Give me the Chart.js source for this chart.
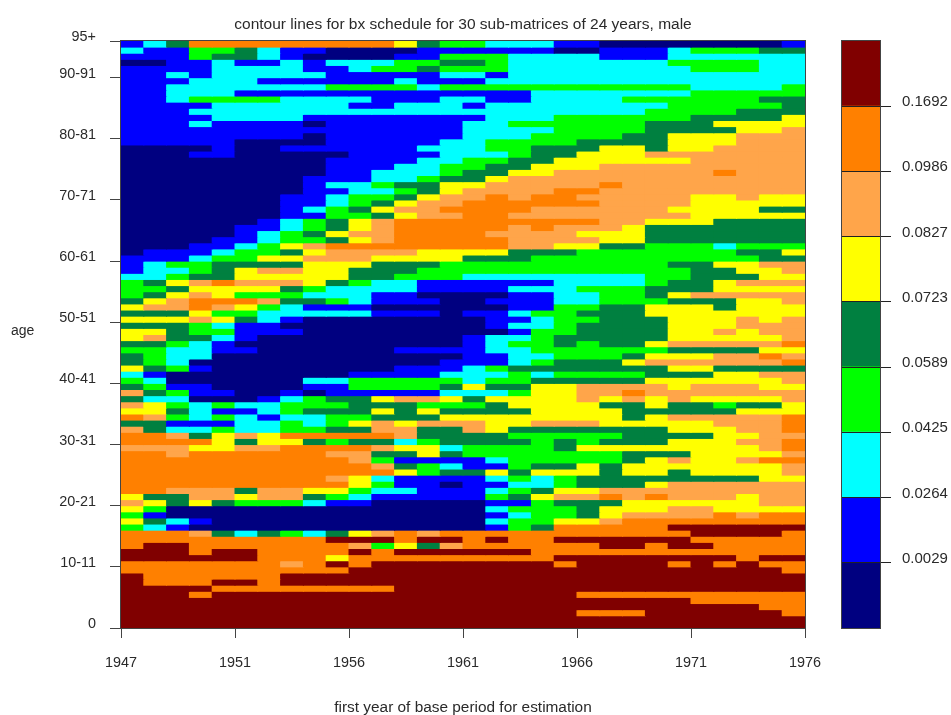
<!DOCTYPE html>
<html>
<head>
<meta charset="utf-8">
<title>contour lines for bx schedule</title>
<script src="https://cdn.jsdelivr.net/npm/chart.js@4/dist/chart.umd.min.js"></script>
<style>
html,body{margin:0;padding:0;background:#fff;width:951px;height:715px;overflow:hidden}
canvas{position:absolute;top:0}
#main{left:0}
#bar{left:820px}
</style>
</head>
<body>
<canvas id="main" width="951" height="715"></canvas>
<canvas id="bar" width="131" height="715"></canvas>
<script>
const titleText = "contour lines for bx schedule for 30 sub-matrices of 24 years, male";
const xAxisTitle = "first year of base period for estimation";
const yAxisTitle = "age";
const xTickLabels = ["1947","1951","1956","1961","1966","1971","1976"];
const xTickPositions = [0,5,10,15,20,25,30];
const yTickLabels = ["0","10-11","20-21","30-31","40-41","50-51","60-61","70-71","80-81","90-91","95+"];
const yTickPositions = [0,10,20,30,40,50,60,70,80,90,96];
const classColors = ["#000080","#0000FF","#00FFFF","#00FF00","#008040","#FFFF00","#FFA54A","#FF8000","#800000"];
const classBreaks = ["0.0029","0.0264","0.0425","0.0589","0.0723","0.0827","0.0986","0.1692"];
// class index of each cell: first string = oldest age group (95+), last = age 0; one digit per base period
const rows = [
"124777777777543322211000000001",
"211334211000011111100111233344",
"111344210000113332222111222222",
"001121121222334432222222333322",
"111122221123343332222222233322",
"112122222111112212222222222222",
"111222111111211122222222222222",
"112222222333323333333333322223",
"112221111111111111222222233333",
"112333322221112211222233333344",
"111122222211222122222222333334",
"111222222222222222222223333444",
"111122221111111122233333344445",
"111211110111111223333334445555",
"111111111111111222233334444556",
"111111110111111222333344555666",
"111110000111112233334444555666",
"000010011111122233444554556666",
"000110000011112223445556666666",
"000000000111122334455555566666",
"000000000111223344555666666666",
"000000000112223445566666667666",
"000000001112234456666666666666",
"000000001223445566666766666666",
"000000001122345666677666666666",
"000000011233456676776666655655",
"000000011234566777777666655555",
"000000012345667777666666555544",
"000000011334566776666666655555",
"000000123456777777777665554444",
"000001123456777776766654444444",
"000001234566777766665554444444",
"000011233456777776666554444444",
"000112356777777776655443332333",
"011123345666655554443333333445",
"111233556665555444333333333344",
"123344445554443333333333445566",
"122345665544433333333333344556",
"223445555544333222222223344455",
"345676665432211111122223445666",
"334555543222211112223334445555",
"345653332221100001122334566666",
"456777644321110011122333444556",
"566765321110000001133445554555",
"444533222221110112334445555555",
"555654210000000011233444555656",
"444321100000000012234444555666",
"554331110000000001334444556566",
"564421000000000122344444555556",
"443210000000000123343445666667",
"332211000000111122333333444455",
"432200000000000112233345556676",
"432000000000001112344456666667",
"543100000000111234444444554444",
"210000000011112223233334445566",
"320000002233333233444445555556",
"431100001133334544556666566655",
"643110010111112223556676666666",
"422000123445665455556565655556",
"653232233344433345555445443445",
"554211234445454444555544444555",
"763232122334445555555545666667",
"441112232356566655666555556667",
"642232233446644654444444555667",
"776456577777644443333344445566",
"777754554344234444343444555667",
"666556677776552333345555555567",
"776777777664454333333344455556",
"777777777763111123333345655677",
"777777777776432113445455555556",
"777777777777534454555455455556",
"777777777652111123234444444455",
"777777777753110112234445666666",
"776664665532211123455666666666",
"544665664321111134566767666566",
"654543332110000011344455555566",
"530000000000000023334555665555",
"310000000000000012334566667677",
"542100000000000023355677777777",
"321000000000000013477777888888",
"777642432456767777777777788887",
"777777777888788787788888877777",
"788777777763546777777887887777",
"888788777787888888777777777777",
"888888777577777777788888888788",
"777777767878888888878888787877",
"777777777788888888888888888887",
"877777788888888888888888888888",
"877788788888888888888888888888",
"888877777777888888888888888888",
"888788888888888888887777777777",
"888888888888888888888888877777",
"888888888888888888888888888877",
"888888888888888888887778888887",
"888888888888888888888888888888",
"888888888888888888888888888888"
];

const textColor = "#2a2a2a";
const axisColor = "#444";
const fam = "'Liberation Sans', Arial, sans-serif";
const tickFont = {family: fam, size: 14.4};

const ageCount = rows.length;
const datasets = rows.map((row, r) => {
  const age = ageCount - 1 - r;
  const cells = row.split("").map(Number);
  return {
    label: "row " + r,
    data: cells.map((cls, c) => ({x: c + 0.5, y: [age, age + 1]})),
    backgroundColor: cells.map(cls => classColors[cls]),
    borderWidth: 0,
    inflateAmount: 0.5,
    grouped: false,
    barPercentage: 1,
    categoryPercentage: 1
  };
});

const frame = {
  id: "frame",
  beforeDraw(chart) {
    chart.scales.y.getLabelItems().forEach(i => { i.options.textBaseline = "alphabetic"; });
  },
  afterDraw(chart) {
    const a = chart.chartArea, ctx = chart.ctx;
    ctx.save();
    ctx.strokeStyle = axisColor;
    ctx.lineWidth = 1;
    ctx.strokeRect(Math.round(a.left) - 0.5, Math.round(a.top) - 0.5, Math.round(a.width) + 1, Math.round(a.height) + 1);
    ctx.restore();
  }
};
const ageLabel = {
  id: "ageLabel",
  afterDraw(chart) {
    const ctx = chart.ctx;
    ctx.save();
    ctx.font = "14px " + fam;
    ctx.fillStyle = textColor;
    ctx.textAlign = "left";
    ctx.textBaseline = "alphabetic";
    ctx.fillText(yAxisTitle, 11, 335);
    ctx.restore();
  }
};

new Chart(document.getElementById("main"), {
  type: "bar",
  data: {datasets},
  plugins: [frame, ageLabel],
  options: {
    responsive: false,
    animation: false,
    events: [],
    layout: {padding: {left: 0, right: 146, top: 0, bottom: 0}},
    plugins: {
      legend: {display: false},
      tooltip: {enabled: false},
      title: {
        display: true, text: titleText, color: textColor, fullSize: false,
        font: {family: fam, size: 15.5, weight: "normal"},
        padding: {top: 15, bottom: 7.4}
      }
    },
    scales: {
      x: {
        type: "linear", min: 0, max: 30, offset: false,
        afterBuildTicks(s) { s.ticks = xTickPositions.map(v => ({value: v})); },
        afterFit(s) { s.height = 87; },
        ticks: {
          autoSkip: false, maxRotation: 0, color: textColor, font: tickFont, padding: 16,
          callback: (v, i) => xTickLabels[i]
        },
        grid: {display: true, drawOnChartArea: false, offset: false, tickLength: 10, color: axisColor},
        border: {display: true, color: "#222"},
        title: {display: true, text: xAxisTitle, color: textColor, font: {family: fam, size: 15.4}, padding: {top: 0, bottom: -2}}
      },
      y: {
        type: "linear", min: 0, max: 96,
        afterBuildTicks(s) { s.ticks = yTickPositions.map(v => ({value: v})); },
        afterFit(s) { s.width = 121; },
        ticks: {
          autoSkip: false, color: textColor, font: tickFont, padding: 14, align: "start",
          callback: (v, i) => yTickLabels[i]
        },
        grid: {display: true, drawOnChartArea: false, tickLength: 11, color: axisColor},
        border: {display: true, color: axisColor}
      }
    }
  }
});

new Chart(document.getElementById("bar"), {
  type: "bar",
  data: {
    labels: [""],
    datasets: classColors.map((col, i) => ({
      label: i === 0 ? "<" + classBreaks[0] : classBreaks[i - 1],
      data: [[i, i + 1]],
      backgroundColor: col,
      borderWidth: 0,
      inflateAmount: 0.5,
      grouped: false,
      barPercentage: 1,
      categoryPercentage: 1
    }))
  },
  plugins: [frame],
  options: {
    responsive: false,
    animation: false,
    events: [],
    layout: {padding: {left: 22, right: 0, top: 41, bottom: 87}},
    plugins: {legend: {display: false}, tooltip: {enabled: false}},
    scales: {
      x: {display: false},
      y: {
        type: "linear", min: 0, max: 9, position: "right",
        afterBuildTicks(s) { s.ticks = classBreaks.map((b, i) => ({value: i + 1})); },
        afterFit(s) { s.width = 71; },
        ticks: {
          autoSkip: false, color: textColor, font: {family: fam, size: 15}, padding: 11, align: "start",
          callback: (v, i) => classBreaks[i]
        },
        grid: {display: true, drawOnChartArea: true, z: 1, tickLength: 11, color: "#222"},
        border: {display: false}
      }
    }
  }
});
</script>
</body>
</html>
